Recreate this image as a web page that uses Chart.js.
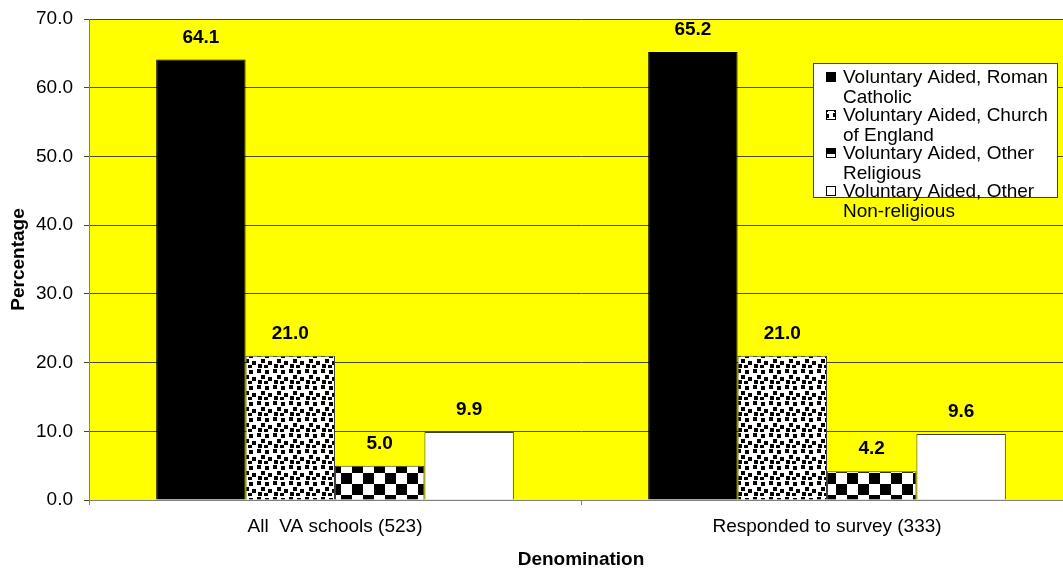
<!DOCTYPE html>
<html>
<head>
<meta charset="utf-8">
<script src="https://cdn.jsdelivr.net/npm/chart.js@4"></script>
<style>
  html, body { margin: 0; background: #fff; overflow: hidden; }
  canvas { display: block; }
</style>
</head>
<body>
<!-- plot area runs a little past the right edge of the window -->
<canvas id="vaChart" width="1073" height="569"></canvas>
<script>
const categories = ['All  VA schools (523)', 'Responded to survey (333)'];
const seriesLabels = [
    ['Voluntary Aided, Roman', 'Catholic'],
    ['Voluntary Aided, Church', 'of England'],
    ['Voluntary Aided, Other', 'Religious'],
    ['Voluntary Aided, Other', 'Non-religious']
];
const romanCatholic     = [64.1, 65.2];
const churchOfEngland   = [21.0, 21.0];
const otherReligious    = [5.0, 4.2];
const otherNonReligious = [9.9, 9.6];
const yTickMin  = 0;
const yTickMax  = 70;
const yTickStep = 10;

const FONT = '"Liberation Sans", Arial, sans-serif';
const FONT_SIZE = 19;

// confetti-style fill: small black squares on white
function confettiPattern() {
    const c = document.createElement('canvas');
    c.width = 16; c.height = 16;
    const g = c.getContext('2d');
    g.fillStyle = '#fff';
    g.fillRect(0, 0, 16, 16);
    g.fillStyle = '#000';
    [[1, 1], [9, 2], [5, 7], [12, 9], [2, 12], [8, 13]].forEach(p => {
        g.fillRect(p[0], p[1], 4, 4);
    });
    return g.createPattern(c, 'repeat');
}

// checkerboard fill
function checkerPattern(size) {
    const c = document.createElement('canvas');
    c.width = size * 2; c.height = size * 2;
    const g = c.getContext('2d');
    g.fillStyle = '#fff';
    g.fillRect(0, 0, size * 2, size * 2);
    g.fillStyle = '#000';
    g.fillRect(0, 0, size, size);
    g.fillRect(size, size, size, size);
    return g.createPattern(c, 'repeat');
}

const fills = ['#000000', confettiPattern(), checkerPattern(11), '#ffffff'];
const borders = ['#000000', '#404040', '#404040', '#404040'];
const values = [romanCatholic, churchOfEngland, otherReligious, otherNonReligious];

// yellow plot area
const plotBackground = {
    id: 'plotBackground',
    beforeDraw(chart) {
        const a = chart.chartArea, ctx = chart.ctx;
        ctx.save();
        ctx.fillStyle = '#ffff00';
        ctx.fillRect(a.left, a.top, a.right - a.left, a.bottom - a.top);
        ctx.restore();
    }
};

// value above each bar
const barValues = {
    id: 'barValues',
    afterDatasetsDraw(chart) {
        const ctx = chart.ctx;
        ctx.save();
        ctx.font = 'bold ' + FONT_SIZE + 'px ' + FONT;
        ctx.fillStyle = '#000';
        ctx.textAlign = 'center';
        ctx.textBaseline = 'middle';
        chart.data.datasets.forEach((ds, i) => {
            chart.getDatasetMeta(i).data.forEach((bar, j) => {
                ctx.fillText(ds.data[j].toFixed(1), bar.x, bar.y - 22);
            });
        });
        ctx.restore();
    }
};

// boxed legend with wrapped labels
const boxLegend = {
    id: 'boxLegend',
    afterDraw(chart) {
        const ctx = chart.ctx;
        const x = 813, y = 63, w = 244, h = 134;
        ctx.save();
        ctx.fillStyle = '#fff';
        ctx.fillRect(x, y, w, h);
        ctx.strokeStyle = '#404040';
        ctx.lineWidth = 1;
        ctx.strokeRect(x + 0.5, y + 0.5, w, h);
        ctx.font = FONT_SIZE + 'px ' + FONT;
        ctx.textBaseline = 'middle';
        chart.data.datasets.forEach((ds, i) => {
            const ly = y + 14 + i * 38;
            ctx.fillStyle = ds.backgroundColor;
            ctx.fillRect(x + 13, ly - 5, 10, 10);
            ctx.strokeStyle = '#000';
            ctx.strokeRect(x + 13.5, ly - 4.5, 9, 9);
            ctx.fillStyle = '#000';
            ds.label.forEach((line, k) => {
                ctx.fillText(line, x + 30, ly + 1 + k * 20);
            });
        });
        ctx.restore();
    }
};

new Chart(document.getElementById('vaChart'), {
    type: 'bar',
    data: {
        labels: categories,
        datasets: values.map((v, i) => ({
            label: seriesLabels[i],
            data: v,
            backgroundColor: fills[i],
            borderColor: borders[i],
            borderWidth: 1,
            categoryPercentage: 0.727,
            barPercentage: 1.0
        }))
    },
    options: {
        responsive: false,
        animation: false,
        layout: { padding: { top: 19, right: 0, bottom: 0, left: 0 } },
        plugins: {
            legend: { display: false },
            tooltip: { enabled: false }
        },
        scales: {
            x: {
                grid: {
                    drawOnChartArea: false,
                    drawTicks: true,
                    tickLength: 5,
                    offset: true,
                    color: '#808080'
                },
                border: { color: '#808080' },
                ticks: {
                    color: '#000',
                    padding: 10,
                    font: { family: FONT, size: FONT_SIZE }
                },
                title: {
                    display: true,
                    text: 'Denomination',
                    color: '#000',
                    font: { family: FONT, size: FONT_SIZE, weight: 'bold' },
                    padding: { top: 10, bottom: -2 }
                },
                afterFit(scale) {
                    scale.height = 69;
                    scale.paddingLeft = 0;
                    scale.paddingRight = 0;
                }
            },
            y: {
                min: yTickMin,
                max: yTickMax,
                grid: {
                    color: '#4a4a20',
                    tickLength: 5
                },
                border: { color: '#808080' },
                ticks: {
                    stepSize: yTickStep,
                    color: '#000',
                    padding: 11,
                    font: { family: FONT, size: FONT_SIZE },
                    callback: v => v.toFixed(1)
                },
                title: {
                    display: true,
                    text: 'Percentage',
                    color: '#000',
                    font: { family: FONT, size: FONT_SIZE, weight: 'bold' },
                    padding: { top: 7, bottom: 0 }
                },
                afterFit(scale) {
                    scale.width = 89;
                    scale.paddingTop = 0;
                    scale.paddingBottom = 0;
                }
            }
        }
    },
    plugins: [plotBackground, barValues, boxLegend]
});
</script>
</body>
</html>
